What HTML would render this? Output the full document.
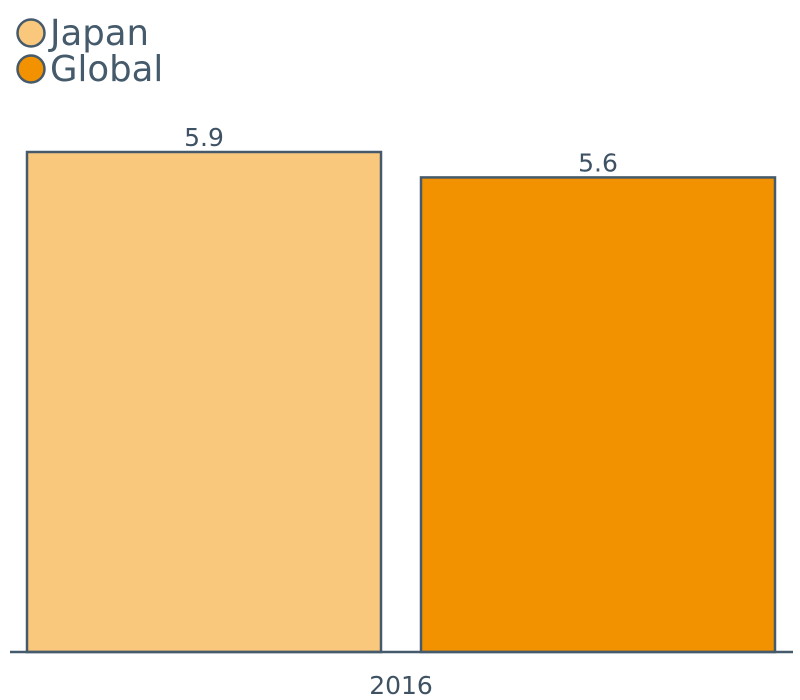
<!DOCTYPE html>
<html>
<head>
<meta charset="utf-8">
<style>
  html,body{margin:0;padding:0;background:#fff;}
  svg{display:block;font-family:"DejaVu Sans","Liberation Sans",sans-serif;}
</style>
</head>
<body>
<svg id="chart" width="800" height="700">
  <g id="legend"></g>
  <g id="bars"></g>
  <line x1="10" y1="652" x2="793" y2="652" stroke="#455a6b" stroke-width="2.5"/>
  <text id="xlabel" x="401" y="694" text-anchor="middle" font-size="25" fill="#3f5263">2016</text>
</svg>
<script>
const categories = ["2016"];
const seriesNames = ["Japan", "Global"];
const seriesValues = [5.9, 5.6];
const valueLabels = ["5.9", "5.6"];
const colors = ["#fac87c", "#f39200"];

const NS = "http://www.w3.org/2000/svg";
const baseY = 652, plotH = 500, maxV = 5.9;
function y(v){ return baseY - v / maxV * plotH; }
const barLefts = [27, 421], barW = 354;

const bars = document.getElementById("bars");
seriesValues.forEach((v, i) => {
  const r = document.createElementNS(NS, "rect");
  r.setAttribute("x", barLefts[i]);
  r.setAttribute("y", y(v));
  r.setAttribute("width", barW);
  r.setAttribute("height", baseY - y(v));
  r.setAttribute("fill", colors[i]);
  r.setAttribute("stroke", "#455a6b");
  r.setAttribute("stroke-width", "2.5");
  
  
  bars.appendChild(r);
  const t = document.createElementNS(NS, "text");
  t.setAttribute("x", barLefts[i] + barW / 2);
  t.setAttribute("y", y(v) - 6);
  t.setAttribute("text-anchor", "middle");
  t.setAttribute("font-size", "25");
  t.setAttribute("fill", "#3f5263");
  t.textContent = valueLabels[i];
  
  
  bars.appendChild(t);
});

const legend = document.getElementById("legend");
seriesNames.forEach((n, i) => {
  const cy = 33 + i * 36;
  const c = document.createElementNS(NS, "circle");
  c.setAttribute("cx", 31);
  c.setAttribute("cy", cy);
  c.setAttribute("r", 13.5);
  c.setAttribute("fill", colors[i]);
  c.setAttribute("stroke", "#455a6b");
  c.setAttribute("stroke-width", "2.5");
  
  
  legend.appendChild(c);
  const t = document.createElementNS(NS, "text");
  t.setAttribute("x", 50);
  t.setAttribute("y", cy + 12);
  t.setAttribute("font-size", "35.5");
  t.setAttribute("fill", "#455a6b");
  t.textContent = n;
  
  
  legend.appendChild(t);
});
</script>
</body>
</html>
